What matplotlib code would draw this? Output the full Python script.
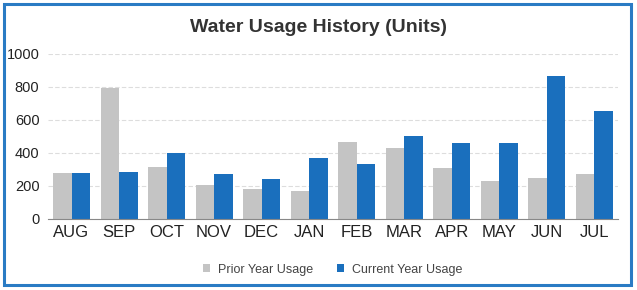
import matplotlib
matplotlib.use("Agg")
import matplotlib.pyplot as plt
import numpy as np
from matplotlib.patches import Rectangle

plt.rcParams["font.family"] = ["Liberation Sans", "DejaVu Sans"]

months = ["AUG", "SEP", "OCT", "NOV", "DEC", "JAN", "FEB", "MAR", "APR", "MAY", "JUN", "JUL"]
prior_year = [281, 795, 317, 206, 180, 172, 469, 432, 311, 232, 247, 275]
current_year = [281, 285, 400, 275, 240, 368, 333, 501, 461, 463, 867, 656]
yticks = [0, 200, 400, 600, 800, 1000]

fig = plt.figure(figsize=(6.37, 2.9), dpi=100)
fig.patch.set_facecolor("white")
fig.patches.append(Rectangle((0.006, 0.018), 0.984, 0.968, transform=fig.transFigure,
                             fill=False, edgecolor="#2a7bc4", linewidth=2.2))

ax = fig.add_axes([0.075, 0.245, 0.895, 0.569])
x = np.arange(len(months))
w = 0.39
ax.bar(x - w / 2, prior_year, w, color="#c4c4c4", label="Prior Year Usage", zorder=2)
ax.bar(x + w / 2, current_year, w, color="#1a6fbd", label="Current Year Usage", zorder=2)

ax.set_xlim(-0.5, len(months) - 0.5)
ax.set_ylim(0, 1000)
ax.set_yticks(yticks)
ax.set_yticklabels([str(t) for t in yticks], fontsize=10.5, color="#222222")
ax.set_xticks(x)
ax.set_xticklabels(months, fontsize=12, color="#222222")
ax.tick_params(axis="x", length=0, pad=4)
ax.tick_params(axis="y", length=0, pad=6)
ax.yaxis.grid(True, color="#dddddd", linestyle=(0, (4, 2)), linewidth=0.8, zorder=0)
for s in ["top", "right", "left"]:
    ax.spines[s].set_visible(False)
ax.spines["bottom"].set_color("#888888")

fig.text(0.5, 0.905, "Water Usage History (Units)", ha="center", va="center",
         fontsize=14, fontweight="bold", color="#333333")

fig.legend(loc="center", bbox_to_anchor=(0.522, 0.07), ncol=2, frameon=False,
           fontsize=9, handlelength=0.6, handleheight=0.6, handletextpad=0.6,
           columnspacing=1.9, labelcolor="#444444")

fig.savefig("out.png", dpi=100)
